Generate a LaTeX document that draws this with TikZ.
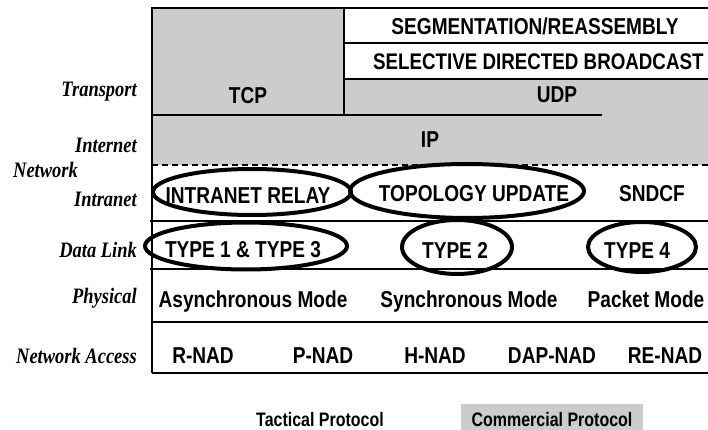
\documentclass[tikz,border=0pt]{standalone}
\usepackage{fontspec}
\newfontfamily\sansn[FakeStretch=0.83]{Liberation Sans}
\newfontfamily\sansl[FakeStretch=0.82]{Liberation Sans}
\newfontfamily\serifn[FakeStretch=0.84]{Liberation Serif}
\usetikzlibrary{shapes.geometric}
\definecolor{panelgray}{gray}{0.8}
\tikzset{
  cell/.style={inner sep=0pt, anchor=base, font=\sansn\bfseries\fontsize{23}{26}\selectfont},
  lbl/.style={inner sep=0pt, anchor=base east, font=\serifn\bfseries\itshape\fontsize{22}{26}\selectfont},
  legend/.style={inner sep=0pt, anchor=base, font=\sansl\bfseries\fontsize{19.5}{22}\selectfont},
  rule/.style={line width=2pt},
  ring/.style={ellipse, draw, line width=4pt, inner sep=0pt},
  shade/.style={fill=panelgray},
}
\begin{document}
\begin{tikzpicture}[x=1pt,y=-1pt]
\useasboundingbox (0,0) rectangle (708,430);
% fills
\fill[shade] (152,8) rectangle (344,115);
\fill[shade] (344,79) rectangle (708,115);
\fill[shade] (152,115) rectangle (708,165);
\fill[shade] (461,404) rectangle (643,430);
% rules
\draw[rule] (152,373) -- (152,8) -- (708,8);
\draw[rule] (344,8) -- (344,115);
\draw[rule] (344,43) -- (708,43);
\draw[rule] (344,79) -- (708,79);
\draw[rule] (152,115) -- (602,115);
\draw[rule, dash pattern=on 6pt off 4pt] (152,165) -- (708,165);
\draw[rule] (150,221) -- (708,221);
\draw[rule] (150,269) -- (708,269);
\draw[rule] (152,322) -- (708,322);
\draw[line width=1.5pt] (152,373) -- (708,373);
% layer labels
\node[lbl] (lTransport) at (137,97) {Transport};
\node[lbl] (lInternet) at (137,153) {Internet};
\node[lbl, anchor=base west] (lNetwork) at (13,178) {Network};
\node[lbl] (lIntranet) at (137,206) {Intranet};
\node[lbl] (lDataLink) at (137,257) {Data Link};
\node[lbl] (lPhysical) at (137,303) {Physical};
\node[lbl] (lAccess) at (137,363) {Network Access};
% cell texts
\node[cell] (tcp) at (248,104) {TCP};
\node[cell] (seg) at (535,35) {SEGMENTATION/REASSEMBLY};
\node[cell, anchor=base west, font=\sansn\bfseries\fontsize{22.6}{26}\selectfont] (sdb) at (373,70) {SELECTIVE DIRECTED BROADCAST};
\node[cell] (udp) at (557,103) {UDP};
\node[cell] (ip) at (430,148) {IP};
\node[cell] (relay) at (248,204) {INTRANET RELAY};
\node[cell] (topo) at (474,201) {TOPOLOGY UPDATE};
\node[cell] (sndcf) at (652,201) {SNDCF};
\node[cell] (t13) at (243,257) {TYPE 1 \& TYPE 3};
\node[cell] (t2) at (455,258) {TYPE 2};
\node[cell] (t4) at (637,258) {TYPE 4};
\node[cell] (async) at (253,307) {Asynchronous Mode};
\node[cell] (sync) at (469,307) {Synchronous Mode};
\node[cell] (packet) at (646,307) {Packet Mode};
\node[cell] (rnad) at (203,363) {R-NAD};
\node[cell] (pnad) at (323,363) {P-NAD};
\node[cell] (hnad) at (435,363) {H-NAD};
\node[cell] (dapnad) at (552,363) {DAP-NAD};
\node[cell] (renad) at (665,363) {RE-NAD};
% rings
\node[ring, minimum width=198pt, minimum height=46pt] (eRelay) at (252,192) {};
\node[ring, minimum width=234pt, minimum height=54pt] (eTopo) at (467,191) {};
\node[ring, minimum width=202pt, minimum height=47pt] (eT13) at (246,246) {};
\node[ring, minimum width=110pt, minimum height=54pt] (eT2) at (457,247) {};
\node[ring, minimum width=108pt, minimum height=50pt] (eT4) at (642,247) {};
% legend
\node[legend] (tact) at (320,426) {Tactical Protocol};
\node[legend] (comm) at (552,426) {Commercial Protocol};
\end{tikzpicture}
\end{document}
